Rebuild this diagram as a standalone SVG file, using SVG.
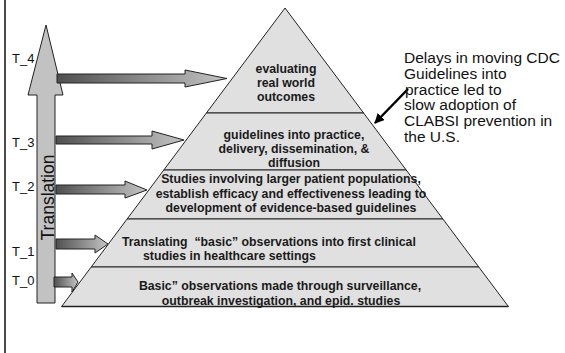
<svg xmlns="http://www.w3.org/2000/svg" width="565" height="353" viewBox="0 0 565 353">
<style>
.band{fill:#e0e0e0;stroke:#222;stroke-width:1}
.div{stroke:#222;stroke-width:1.3;fill:none}
.pt{font-family:"Liberation Sans",Arial,sans-serif;font-weight:bold;font-size:12.3px;fill:#1a1a1a;text-anchor:middle}
.tl{font-family:"Liberation Sans",Arial,sans-serif;font-size:13px;fill:#111}
.note{font-family:"Liberation Sans",Arial,sans-serif;font-size:15.5px;fill:#111}
.harrow{fill:url(#hg);stroke:#222;stroke-width:1}
</style>
<defs>
<linearGradient id="hg" x1="0" y1="0" x2="1" y2="0">
<stop offset="0" stop-color="#505050"/>
<stop offset="1" stop-color="#c4c4c4"/>
</linearGradient>
<marker id="ah" viewBox="0 0 10 10" refX="9" refY="5" markerWidth="4" markerHeight="4" orient="auto" markerUnits="strokeWidth">
<path d="M0,0 L10,5 L0,10 z" fill="#000"/>
</marker>
</defs>
<rect width="565" height="353" fill="#fff"/>
<line x1="5" y1="0" x2="5" y2="353" stroke="#111" stroke-width="1.5"/>

<g id="pyramid">
<g id="band-t4">
<polygon class="band" points="285,8 363.6,113 206.4,113"/>
<text class="pt" x="286" y="72.5">evaluating</text>
<text class="pt" x="286" y="87">real world</text>
<text class="pt" x="286" y="101">outcomes</text>
</g>
<g id="band-t3">
<polygon class="band" points="206.4,113 363.6,113 406.2,170 163.8,170"/>
<text class="pt" x="294" y="139">guidelines into practice,</text>
<text class="pt" x="294" y="153">delivery, dissemination, &amp;</text>
<text class="pt" x="294" y="166.5">diffusion</text>
</g>
<g id="band-t2">
<polygon class="band" points="163.8,170 406.2,170 442.9,219 127.1,219"/>
<text class="pt" x="291" y="183">Studies involving larger patient populations,</text>
<text class="pt" x="291" y="197.5">establish efficacy and effectiveness leading to</text>
<text class="pt" x="291" y="212">development of evidence-based guidelines</text>
</g>
<g id="band-t1">
<polygon class="band" points="127.1,219 442.9,219 478.8,267 91.2,267"/>
<text class="pt" x="122" y="246" style="text-anchor:start;white-space:pre" xml:space="preserve">Translating  “basic” observations into first clinical</text>
<text class="pt" x="143" y="260" style="text-anchor:start">studies in healthcare settings</text>
</g>
<g id="band-t0">
<polygon class="band" points="91.2,267 478.8,267 508.4,306.5 61.6,306.5"/>
<line x1="61.6" y1="306.5" x2="508.4" y2="306.5" stroke="#222" stroke-width="1.6"/>
<text class="pt" x="280" y="290">Basic” observations made through surveillance,</text>
<text class="pt" x="281" y="304.5">outbreak investigation, and epid. studies</text>
</g>
</g>

<g id="translation-axis">
<polygon points="37,303 37,95 28,95 46,25 63,95 55,95 55,303" fill="#c2c2c2" stroke="#222" stroke-width="1"/>
<text transform="translate(54,197.5) rotate(-90)" style="font-family:'Liberation Sans',Arial,sans-serif;font-size:17.5px;fill:#111;text-anchor:middle">Translation</text>
</g>

<g id="labels">
<text class="tl" x="12" y="63">T_4</text>
<text class="tl" x="12" y="147">T_3</text>
<text class="tl" x="12" y="191">T_2</text>
<text class="tl" x="12" y="256">T_1</text>
<text class="tl" x="12" y="285">T_0</text>
</g>

<g id="connectors">
<polygon class="harrow" points="57,74 185,74 185,70 227,78.5 185,87 185,83 57,83"/>
<polygon class="harrow" points="56,136 152,136 152,131 184,140 152,149 152,144 56,144"/>
<polygon class="harrow" points="56,185 125,185 125,181 147,190 125,198 125,194 56,194"/>
<polygon class="harrow" points="56,239 95,239 95,235 108,244 95,253 95,249 56,249"/>
<polygon class="harrow" points="54,277 72,277 72,273 78,282 72,292 72,287 54,287"/>
<line x1="408" y1="89" x2="375" y2="123" stroke="#000" stroke-width="2.5" marker-end="url(#ah)"/>
</g>

<g id="note">
<text class="note" x="404" y="63">Delays in moving CDC</text>
<text class="note" x="404" y="79">Guidelines into</text>
<text class="note" x="405" y="94.5">practice led to</text>
<text class="note" x="404" y="110">slow adoption of</text>
<text class="note" x="404" y="126">CLABSI prevention in</text>
<text class="note" x="404" y="141.5">the U.S.</text>
</g>
</svg>
